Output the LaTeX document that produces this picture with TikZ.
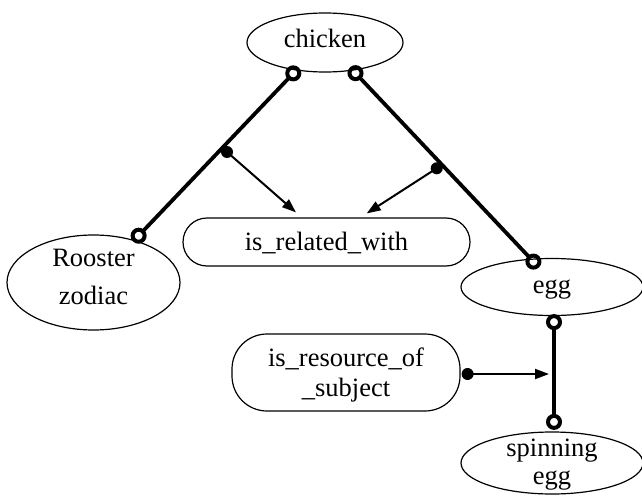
\documentclass[tikz,border=0pt]{standalone}
\usepackage{fontspec}
\setmainfont{Liberation Serif}
\newfontfamily\lserif{Liberation Serif}
\usetikzlibrary{shapes.geometric,arrows.meta,calc}
\newcommand\mytxt[3]{\raisebox{#1}[0pt][0pt]{\fontsize{26.5pt}{#2}\selectfont\begin{tabular}[t]{@{}c@{}}#3\end{tabular}}}
\begin{document}
\begin{tikzpicture}[x=1pt,y=1pt,
  font=\lserif\fontsize{26.5pt}{30pt}\selectfont,
  ell/.style={ellipse, draw, line width=1.2pt, inner sep=0pt},
  pill/.style={rectangle, draw, line width=1.2pt, inner sep=0pt},
  rel/.style={line width=3.8pt, {Circle[open,length=16pt,width=16pt,line width=4pt]}-{Circle[open,length=16pt,width=16pt,line width=4pt]}},
  arr/.style={line width=2pt, -{Triangle[length=14pt,width=10pt]}},
  dotmark/.style={fill=black}
  ]
\useasboundingbox (0,0) rectangle (642,-495);

\node[ell, minimum width=156pt, minimum height=59pt] (chicken) at (325,-42.5) {\mytxt{-5.5pt}{30pt}{chicken}};
\node[ell, minimum width=173pt, minimum height=95pt] (rooster) at (93.5,-282.5) {\mytxt{15.8pt}{38pt}{Rooster\\zodiac}};
\node[pill, rounded corners=24pt, minimum width=287pt, minimum height=48pt] (related) at (326.5,-242) {\mytxt{-8pt}{30pt}{is\_related\_with}};
\node[ell, minimum width=182pt, minimum height=57pt] (egg) at (552,-287) {\mytxt{-6.3pt}{30pt}{egg}};
\node[pill, rounded corners=35pt, minimum width=228pt, minimum height=77pt] (resource) at (346,-372.5) {\mytxt{6.5pt}{30pt}{is\_resource\_of\\\_subject}};
\node[ell, minimum width=182pt, minimum height=62pt] (spin) at (552,-463) {\mytxt{7pt}{28pt}{spinning\\egg}};

\draw[rel, shorten <=-4pt, shorten >=-2pt] (chicken.224) -- (rooster.46.2);
\draw[rel, shorten <=-4.5pt, shorten >=-12pt] (chicken.-45.3) -- (egg.127.8);
\draw[rel, shorten <=-2pt, shorten >=1.5pt] ([xshift=2pt]egg.south) -- ([xshift=2pt]spin.north);

\coordinate (d1) at (227,-152);
\coordinate (d2) at (436.7,-168.3);
\coordinate (d3) at ([xshift=7pt,yshift=-1.5pt]resource.east);
\fill[dotmark] (d1) circle (6pt);
\fill[dotmark] (d2) circle (6pt);
\fill[dotmark] (d3) circle (6pt);
\draw[arr] (d1) -- ([xshift=-30.5pt,yshift=5pt]related.north);
\draw[arr] (d2) -- ([xshift=40.2pt,yshift=4pt]related.north);
\draw[arr] (d3) -- ([xshift=-3pt]d3 -| egg.south);
\end{tikzpicture}
\end{document}
